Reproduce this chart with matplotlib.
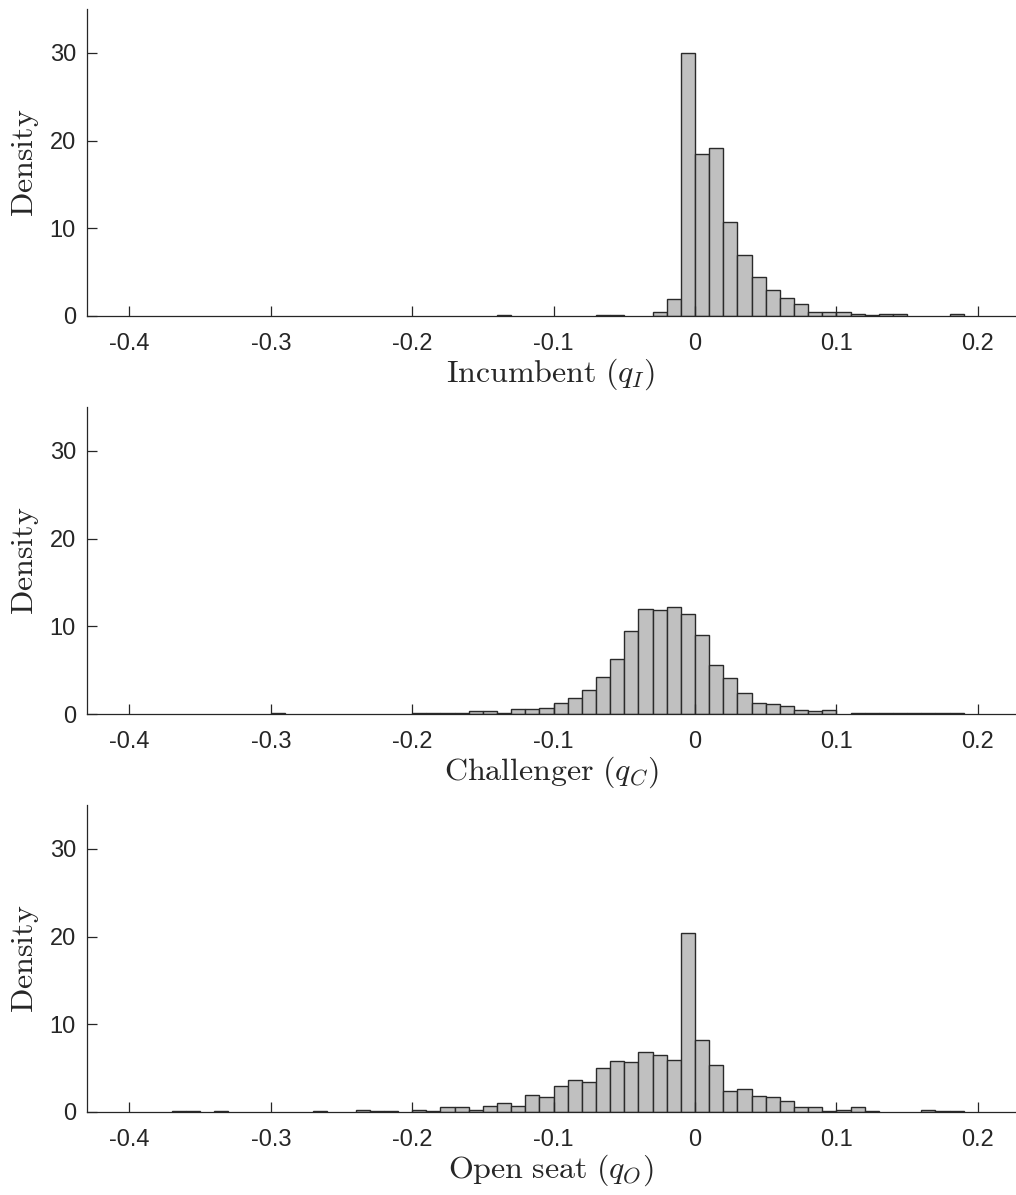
import matplotlib
matplotlib.use("Agg")
import matplotlib.pyplot as plt

BIN_WIDTH = 0.01

# left bin edges and density per panel (bins of width 0.01)
incumbent_left = [-0.14, -0.07, -0.06, -0.03, -0.02, -0.01, 0.00, 0.01, 0.02, 0.03,
                  0.04, 0.05, 0.06, 0.07, 0.08, 0.09, 0.10, 0.11, 0.12, 0.13, 0.14, 0.18]
incumbent_density = [0.1, 0.1, 0.1, 0.42, 1.97, 30.0, 18.45, 19.17, 10.7, 6.99,
                     4.48, 2.96, 2.09, 1.40, 0.42, 0.42, 0.42, 0.27, 0.15, 0.27, 0.27, 0.27]

challenger_left = [-0.30, -0.20, -0.19, -0.18, -0.17, -0.16, -0.15, -0.14, -0.13, -0.12,
                   -0.11, -0.10, -0.09, -0.08, -0.07, -0.06, -0.05, -0.04, -0.03, -0.02,
                   -0.01, 0.00, 0.01, 0.02, 0.03, 0.04, 0.05, 0.06, 0.07, 0.08,
                   0.09, 0.11, 0.12, 0.13, 0.14, 0.15, 0.16, 0.17, 0.18]
challenger_density = [0.1, 0.1, 0.1, 0.1, 0.1, 0.3, 0.3, 0.15, 0.57, 0.57,
                      0.72, 1.25, 1.86, 2.77, 4.18, 6.26, 9.45, 11.96, 11.81, 12.22,
                      11.39, 9.04, 5.58, 4.10, 2.39, 1.25, 1.14, 0.87, 0.46, 0.30,
                      0.46, 0.1, 0.1, 0.1, 0.1, 0.1, 0.1, 0.1, 0.1]

open_left = [-0.37, -0.36, -0.34, -0.27, -0.24, -0.23, -0.22, -0.20, -0.19, -0.18,
             -0.17, -0.16, -0.15, -0.14, -0.13, -0.12, -0.11, -0.10, -0.09, -0.08,
             -0.07, -0.06, -0.05, -0.04, -0.03, -0.02, -0.01, 0.00, 0.01, 0.02,
             0.03, 0.04, 0.05, 0.06, 0.07, 0.08, 0.09, 0.10, 0.11, 0.12,
             0.16, 0.17, 0.18]
open_density = [0.11, 0.11, 0.11, 0.11, 0.27, 0.11, 0.11, 0.27, 0.11, 0.57,
                0.57, 0.27, 0.72, 0.99, 0.72, 1.94, 1.67, 2.92, 3.64, 3.45,
                5.01, 5.85, 5.69, 6.83, 6.49, 5.96, 20.39, 8.2, 5.39, 2.35,
                2.66, 1.78, 1.67, 1.21, 0.57, 0.57, 0.11, 0.27, 0.57, 0.11,
                0.27, 0.11, 0.11]

panels = [
    (incumbent_left, incumbent_density, r"$\mathrm{Incumbent}\ (q_I)$"),
    (challenger_left, challenger_density, r"$\mathrm{Challenger}\ (q_C)$"),
    (open_left, open_density, r"$\mathrm{Open\ seat}\ (q_O)$"),
]

x_ticks = [-0.4, -0.3, -0.2, -0.1, 0, 0.1, 0.2]
x_tick_labels = ["-0.4", "-0.3", "-0.2", "-0.1", "0", "0.1", "0.2"]
y_ticks = [0, 10, 20, 30]

plt.rcParams["mathtext.fontset"] = "cm"
plt.rcParams["font.family"] = ["Liberation Sans", "DejaVu Sans"]

AX_COLOR = "#262626"
LABEL_SIZE = 23

fig = plt.figure(figsize=(10.16, 11.95), dpi=100)
bottoms = [0.7356, 0.4025, 0.0695]

for (left, dens, label), b in zip(panels, bottoms):
    ax = fig.add_axes([0.0856, b, 0.913, 0.2569])
    ax.bar(left, dens, width=BIN_WIDTH, align="edge",
           color="#c0c0c0", edgecolor="#2a2a2a", linewidth=1.0)
    ax.set_xlim(-0.43, 0.226)
    ax.set_ylim(0, 35)
    ax.set_xticks(x_ticks)
    ax.set_xticklabels(x_tick_labels)
    ax.set_yticks(y_ticks)
    for side in ("top", "right"):
        ax.spines[side].set_visible(False)
    for side in ("left", "bottom"):
        ax.spines[side].set_color(AX_COLOR)
        ax.spines[side].set_linewidth(0.9)
    ax.tick_params(direction="in", length=7, width=0.9, colors=AX_COLOR,
                   labelsize=17)
    ax.tick_params(axis="x", pad=12)
    ax.tick_params(axis="y", pad=8)
    ax.set_xlabel(label, fontsize=LABEL_SIZE, color=AX_COLOR, labelpad=1)
    ax.set_ylabel(r"$\mathrm{Density}$", fontsize=LABEL_SIZE, color=AX_COLOR,
                  labelpad=6)

fig.savefig("out.png", dpi=100)
